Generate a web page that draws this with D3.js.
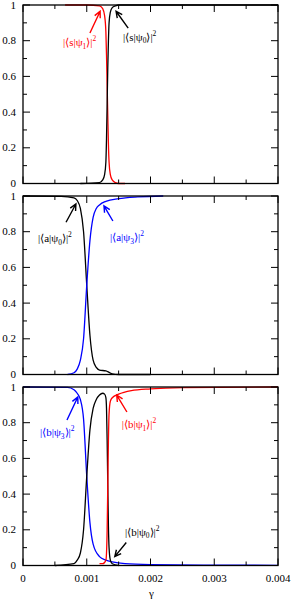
<!DOCTYPE html>
<html>
<head>
<meta charset="utf-8">
<script src="https://cdn.jsdelivr.net/npm/d3@7"></script>
<style>
  body { margin: 0; background: #fff; }
  svg { display: block; }
</style>
</head>
<body>
<div id="chart"></div>
<script>
// tick values
var xTicks = [0, 0.001, 0.002, 0.003, 0.004];
var xMinor = [0.0005, 0.0015, 0.0025, 0.0035];
var yTicks = [0, 0.2, 0.4, 0.6, 0.8, 1];
var yMinor = [0.1, 0.3, 0.5, 0.7, 0.9];

// panel 1 : |<s|psi>|^2   [gamma, prob]
var s_psi1 = [[0.00066,1],[0.0010,1],[0.0012,0.995],[0.00125,0.98],[0.00128,0.94],[0.0013,0.85],[0.00131,0.72],[0.00132,0.55],[0.00133,0.38],[0.00134,0.22],[0.00135,0.12],[0.00137,0.05],[0.0014,0.02],[0.00145,0.005],[0.0015,0],[0.0016,0]];
var s_psi0 = [[0.0009,0],[0.0012,0.005],[0.00125,0.02],[0.00128,0.05],[0.0013,0.12],[0.00131,0.25],[0.00132,0.45],[0.00133,0.65],[0.00134,0.8],[0.00135,0.9],[0.00137,0.96],[0.0014,0.985],[0.00145,0.995],[0.0015,1],[0.004,1]];

// panel 2 : |<a|psi>|^2
var a_psi0 = [[0,1],[0.0006,0.998],[0.0008,0.99],[0.00085,0.975],[0.0009,0.93],[0.00095,0.8],[0.001,0.5],[0.00105,0.22],[0.0011,0.08],[0.00115,0.04],[0.0012,0.025],[0.0013,0.02],[0.00135,0.012],[0.0014,0.003],[0.0015,0],[0.002,0]];
var a_psi3 = [[0.0007,0],[0.0008,0.01],[0.00085,0.03],[0.0009,0.08],[0.00095,0.2],[0.001,0.5],[0.00105,0.75],[0.0011,0.88],[0.00115,0.93],[0.0012,0.95],[0.0013,0.97],[0.0015,0.985],[0.0018,0.995],[0.0022,1]];

// panel 3 : |<b|psi>|^2
var b_psi3 = [[0,1],[0.0007,0.998],[0.0008,0.985],[0.00085,0.965],[0.0009,0.93],[0.00095,0.82],[0.001,0.5],[0.00105,0.24],[0.0011,0.12],[0.0012,0.05],[0.0013,0.03],[0.0014,0.02],[0.0016,0.01],[0.002,0.005],[0.003,0.002],[0.004,0.001]];
var b_psi0 = [[0.0005,0],[0.0008,0.01],[0.00085,0.03],[0.0009,0.07],[0.00095,0.2],[0.001,0.5],[0.00105,0.76],[0.0011,0.88],[0.00115,0.93],[0.0012,0.955],[0.00125,0.965],[0.00128,0.96],[0.0013,0.94],[0.00131,0.88],[0.00132,0.7],[0.00133,0.45],[0.00134,0.22],[0.00135,0.1],[0.00137,0.03],[0.0014,0.01],[0.0015,0]];
var b_psi1 = [[0.0012,0.01],[0.00125,0.01],[0.0013,0.03],[0.00131,0.07],[0.00132,0.2],[0.00133,0.45],[0.00134,0.7],[0.00135,0.85],[0.00137,0.92],[0.0014,0.94],[0.0015,0.96],[0.0017,0.98],[0.002,0.99],[0.0025,0.997],[0.004,1]];

var panels = [
  { top: 5, series: [ {d: s_psi1, c: '#ff0000'}, {d: s_psi0, c: '#000000'} ],
    notes: [
      { st: 's', sub: '1', c: '#ff0000', lx: 0.000627, ly: 0.77, a: [0.00105, 0.843, 0.00121, 0.965] },
      { st: 's', sub: '0', c: '#000000', lx: 0.00157, ly: 0.80, a: [0.00165, 0.87, 0.00146, 0.965] }
    ] },
  { top: 196, series: [ {d: a_psi0, c: '#000000'}, {d: a_psi3, c: '#0000ff'} ],
    notes: [
      { st: 'a', sub: '0', c: '#000000', lx: 0.000235, ly: 0.742, a: [0.000675, 0.853, 0.00083, 0.955] },
      { st: 'a', sub: '3', c: '#0000ff', lx: 0.001365, ly: 0.747, a: [0.00141, 0.86, 0.00127, 0.945] }
    ] },
  { top: 387, series: [ {d: b_psi3, c: '#0000ff'}, {d: b_psi0, c: '#000000'}, {d: b_psi1, c: '#ff0000'} ],
    notes: [
      { st: 'b', sub: '3', c: '#0000ff', lx: 0.000267, ly: 0.725, a: [0.00069, 0.815, 0.00086, 0.944] },
      { st: 'b', sub: '1', c: '#ff0000', lx: 0.00155, ly: 0.77, a: [0.00163, 0.86, 0.00147, 0.955] },
      { st: 'b', sub: '0', c: '#000000', lx: 0.0016, ly: 0.168, a: [0.00162, 0.129, 0.00144, 0.05] }
    ] }
];

var W = 292, H = 600;
var left = 23, right = 278, ph = 178.5;

var svg = d3.select('#chart').append('svg').attr('width', W).attr('height', H)
  .attr('font-family', 'Liberation Serif');
var x = d3.scaleLinear().domain([0, 0.004]).range([left, right]);

panels.forEach(function(p, i) {
  var y = d3.scaleLinear().domain([0, 1]).range([p.top + ph, p.top]);
  var g = svg.append('g');

  var line = d3.line()
    .x(function(d) { return x(d[0]); })
    .y(function(d) { return y(d[1]); })
    .curve(d3.curveMonotoneX);

  p.series.forEach(function(s) {
    g.append('path').attr('d', line(s.d))
      .attr('fill', 'none').attr('stroke', s.c).attr('stroke-width', 1.3);
  });

  // ticks on all sides
  var tk = g.append('g').attr('stroke', '#000').attr('stroke-width', 1);
  xTicks.concat(xMinor).forEach(function(t) {
    var len = xMinor.indexOf(t) >= 0 ? 4 : 7;
    tk.append('line').attr('x1', x(t)).attr('x2', x(t)).attr('y1', p.top + ph).attr('y2', p.top + ph - len);
    tk.append('line').attr('x1', x(t)).attr('x2', x(t)).attr('y1', p.top).attr('y2', p.top + len);
  });
  yTicks.concat(yMinor).forEach(function(t) {
    var len = yMinor.indexOf(t) >= 0 ? 4 : 7;
    tk.append('line').attr('x1', left).attr('x2', left + len).attr('y1', y(t)).attr('y2', y(t));
    tk.append('line').attr('x1', right).attr('x2', right - len).attr('y1', y(t)).attr('y2', y(t));
  });

  g.append('rect').attr('x', left).attr('y', p.top).attr('width', right - left).attr('height', ph)
    .attr('fill', 'none').attr('stroke', '#000').attr('stroke-width', 1.3);

  g.selectAll('text.yl').data(yTicks).enter().append('text')
    .attr('x', 16).attr('y', function(d) { return y(d) + 3.5; })
    .attr('text-anchor', 'end').attr('font-size', 11)
    .text(function(d) { return d3.format('~g')(d); });

  // labels + arrows
  p.notes.forEach(function(n) {
    var t = g.append('text').attr('x', x(n.lx)).attr('y', y(n.ly))
      .attr('fill', n.c).attr('font-size', 11);
    t.append('tspan').text('|\u27E8' + n.st + '|\u03C8');
    t.append('tspan').attr('font-size', 7.5).attr('dy', 2.5).text(n.sub);
    t.append('tspan').attr('dy', -2.5).text('\u27E9|');
    t.append('tspan').attr('font-size', 7.5).attr('dy', -5).text('2');

    var x1 = x(n.a[0]), y1 = y(n.a[1]), x2 = x(n.a[2]), y2 = y(n.a[3]);
    var ang = Math.atan2(y2 - y1, x2 - x1), hl = 7, hw = 0.45;
    var pth = 'M' + x1 + ',' + y1 + 'L' + x2 + ',' + y2 +
      'M' + (x2 - hl * Math.cos(ang - hw)) + ',' + (y2 - hl * Math.sin(ang - hw)) +
      'L' + x2 + ',' + y2 +
      'L' + (x2 - hl * Math.cos(ang + hw)) + ',' + (y2 - hl * Math.sin(ang + hw));
    g.append('path').attr('d', pth).attr('fill', 'none').attr('stroke', n.c).attr('stroke-width', 1.4);
  });

  if (i === panels.length - 1) {
    g.selectAll('text.xl').data(xTicks).enter().append('text')
      .attr('x', function(d) { return x(d); }).attr('y', p.top + ph + 16)
      .attr('text-anchor', 'middle').attr('font-size', 11)
      .text(function(d) { return d === 0 ? '0' : d3.format('.3f')(d); });
    g.append('text').attr('x', (left + right) / 2 + 1).attr('y', p.top + ph + 31)
      .attr('text-anchor', 'middle').attr('font-size', 11).text('\u03B3');
  }
});
</script>
</body>
</html>
